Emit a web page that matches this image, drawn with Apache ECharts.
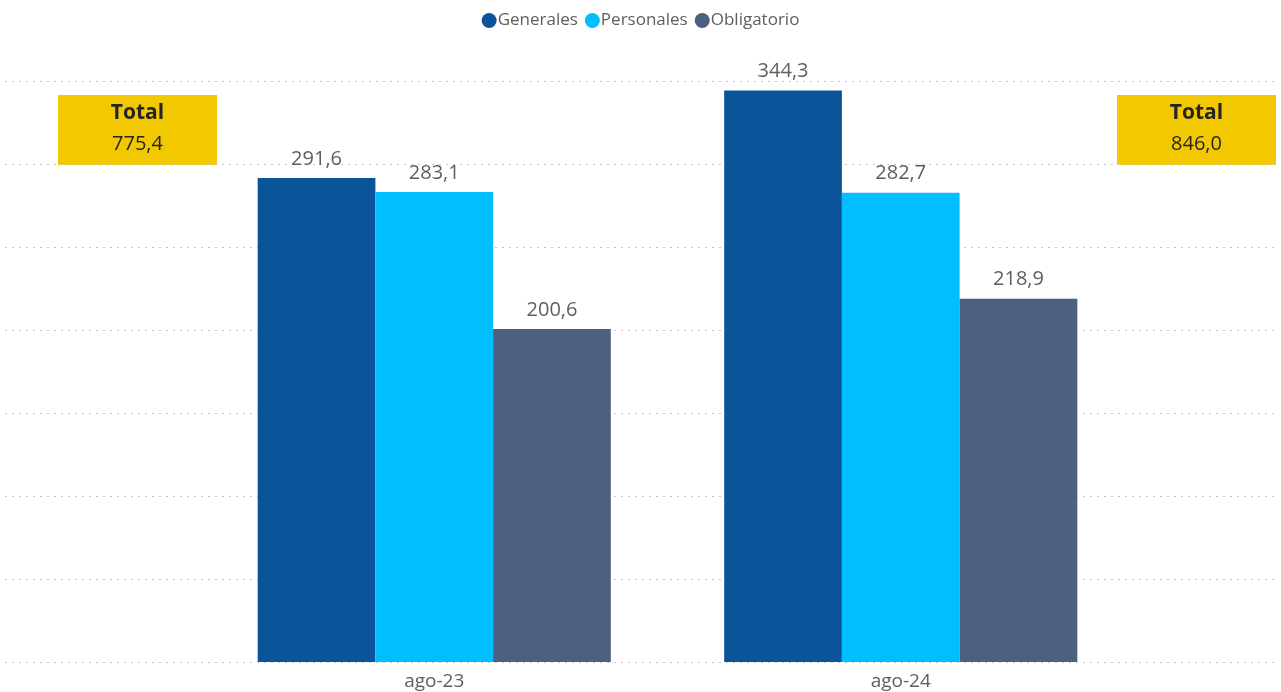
<!DOCTYPE html>
<html>
<head>
<meta charset="utf-8">
<script src="https://cdn.jsdelivr.net/npm/echarts@6/dist/echarts.min.js"></script>
<style>
  html, body { margin: 0; padding: 0; background: #fff; }
  #main { width: 1281px; height: 692px; }
</style>
</head>
<body>
<div id="main"></div>
<script>
// datos
var categorias = ['ago-23', 'ago-24'];
var generales = [291.6, 344.3];
var personales = [283.1, 282.7];
var obligatorio = [200.6, 218.9];
var totales = [775.4, 846.0];
var yTicks = [0, 50, 100, 150, 200, 250, 300, 350];

var fuente = '"Open Sans", "Noto Sans", sans-serif';

function fmt(v) {
  return v.toFixed(1).replace('.', ',');
}

var myChart = echarts.init(document.getElementById('main'));

// etiqueta de valor encima de cada barra
var etiqueta = {
  show: true,
  position: 'top',
  distance: 9,
  color: '#605E5C',
  fontSize: 20,
  fontFamily: fuente,
  formatter: function (p) { return fmt(p.value); }
};

function serie(nombre, datos, color) {
  return {
    name: nombre,
    type: 'bar',
    xAxisIndex: 1,
    yAxisIndex: 1,
    data: datos,
    barGap: '0%',
    barCategoryGap: '24.3%',
    itemStyle: { color: color },
    label: etiqueta
  };
}

// cajas de total
function cajaTotal(x, valor) {
  return {
    type: 'group',
    left: x,
    top: 95,
    children: [
      { type: 'rect', shape: { x: 0, y: 0, width: 159, height: 70 }, style: { fill: '#F2C900' } },
      { type: 'text', x: 79.5, y: 18, style: { text: 'Total', fill: '#252423', font: 'bold 21px ' + fuente, textAlign: 'center', textVerticalAlign: 'middle' } },
      { type: 'text', x: 79.5, y: 49, style: { text: fmt(valor), fill: '#252423', font: '20px ' + fuente, textAlign: 'center', textVerticalAlign: 'middle' } }
    ]
  };
}

var option = {
  backgroundColor: '#fff',
  animation: false,
  legend: {
    top: 7,
    left: 'center',
    icon: 'circle',
    itemWidth: 15,
    itemHeight: 15,
    itemGap: 7,
    textStyle: { color: '#605E5C', fontSize: 17, fontFamily: fuente, padding: [0, 0, 0, -4] },
    data: ['Generales', 'Personales', 'Obligatorio']
  },
  grid: [
    // rejilla de fondo a todo lo ancho
    { left: 5, right: 6, top: 81, bottom: 30 },
    // barras
    { left: 201, right: 147, top: 81, bottom: 30 }
  ],
  xAxis: [
    { gridIndex: 0, type: 'value', show: false, min: 0, max: 1 },
    {
      gridIndex: 1,
      type: 'category',
      data: categorias,
      axisLine: { show: false },
      axisTick: { show: false },
      axisLabel: { color: '#605E5C', fontSize: 19, fontFamily: fuente, margin: 10 }
    }
  ],
  yAxis: [
    {
      gridIndex: 0,
      type: 'value',
      min: yTicks[0],
      max: yTicks[yTicks.length - 1],
      interval: yTicks[1] - yTicks[0],
      axisLabel: { show: false },
      axisLine: { show: false },
      axisTick: { show: false },
      splitLine: { show: true, lineStyle: { type: [2, 5], color: '#C8C8C8', width: 1 } }
    },
    {
      gridIndex: 1,
      type: 'value',
      min: yTicks[0],
      max: yTicks[yTicks.length - 1],
      interval: yTicks[1] - yTicks[0],
      show: false,
      splitLine: { show: false }
    }
  ],
  series: [
    serie('Generales', generales, '#0B5499'),
    serie('Personales', personales, '#00BEFF'),
    serie('Obligatorio', obligatorio, '#4D6080')
  ],
  graphic: [cajaTotal(58, totales[0]), cajaTotal(1117, totales[1])]
};

window.onresize = myChart.resize;
myChart.setOption(option);
</script>
</body>
</html>
